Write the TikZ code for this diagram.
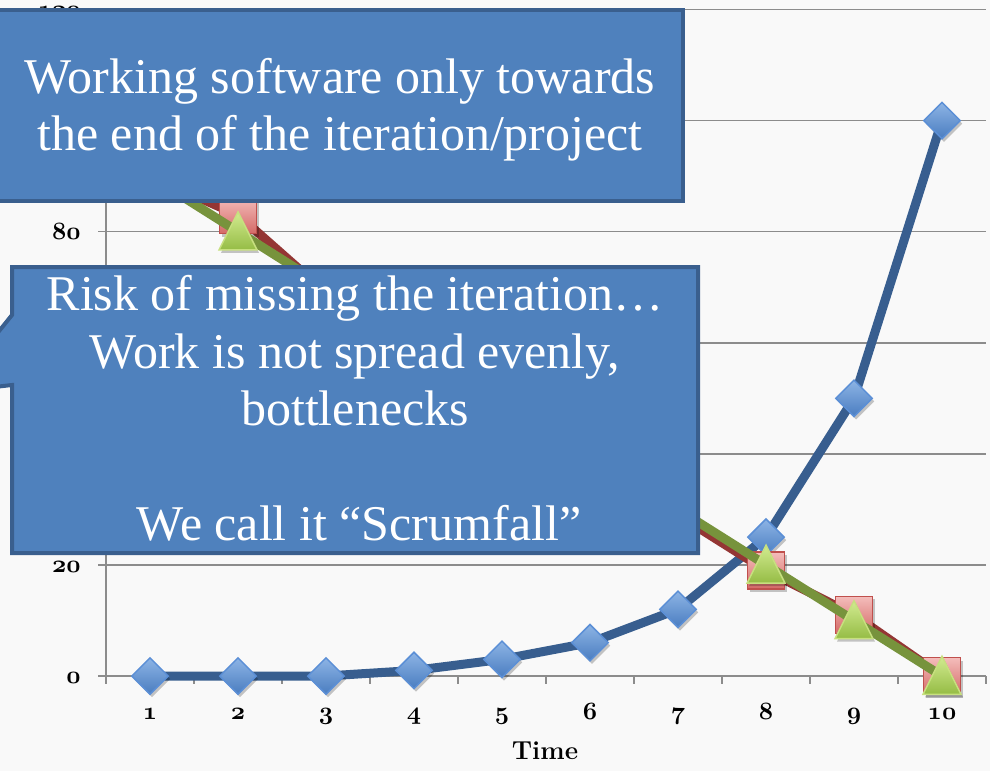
\documentclass[tikz,border=0pt]{standalone}
\usepackage{fontspec}
\newfontfamily\boxfont{Liberation Serif}
\usetikzlibrary{shapes.geometric,shadows}
\definecolor{bgc}{HTML}{F9F9F9}
\definecolor{gridc}{HTML}{8C8C8C}
\definecolor{boxfill}{HTML}{4F81BD}
\definecolor{boxedge}{HTML}{3A5F8E}
\definecolor{blueline}{HTML}{385E8F}
\definecolor{bluetop}{HTML}{8DB4E5}
\definecolor{bluebot}{HTML}{4A7DC0}
\definecolor{blueedge}{HTML}{5B8FD6}
\definecolor{redline}{HTML}{943634}
\definecolor{redtop}{HTML}{F4BDBB}
\definecolor{redbot}{HTML}{D46A67}
\definecolor{rededge}{HTML}{C0504D}
\definecolor{greenline}{HTML}{77933C}
\definecolor{greentop}{HTML}{D2EB90}
\definecolor{greenbot}{HTML}{95BC45}
\definecolor{greenedge}{HTML}{C7E07F}
\newcommand\axnum[1]{{\fontsize{24}{24}\usefont{OML}{cmm}{b}{it}#1}}
\begin{document}
\begin{tikzpicture}[x=1pt,y=-1pt,
  grid/.style={draw=gridc, line width=1.5},
  axisline/.style={draw=gridc, line width=2},
  ylab/.style={anchor=base east, inner sep=0},
  xlab/.style={anchor=base, inner sep=0},
  callout/.style={fill=boxfill, draw=boxedge, line width=4, line join=miter},
  boxtext/.style={anchor=base, inner sep=0, text=white, font=\boxfont\fontsize{50}{57}\selectfont},
  series/.style={line width=9, line join=round, line cap=round},
  mshadow/.style={drop shadow={shadow xshift=2pt, shadow yshift=-3pt, opacity=0.22, fill=black}},
  bmark/.style={diamond, inner sep=0, minimum width=37, minimum height=37, draw=blueedge, line width=1.5, top color=bluetop, bottom color=bluebot, mshadow},
  rmark/.style={rectangle, inner sep=0, minimum size=37, draw=rededge, line width=1.5, top color=redtop, bottom color=redbot, mshadow},
  gmark/.style={isosceles triangle, isosceles triangle stretches, shape border rotate=90, inner sep=0, minimum width=38, minimum height=38, draw=greenedge, line width=1.5, top color=greentop, bottom color=greenbot, mshadow, anchor=south},
]
\useasboundingbox (0,0) rectangle (990,771);
\clip (0,0) rectangle (990,771);
\fill[bgc] (0,0) rectangle (990,771);

% grid and axes
\foreach \v in {20,40,60,80,100,120}
  \draw[grid] (98,{676-5.554*\v}) -- (986,{676-5.554*\v});
\draw[axisline] (106,{676-5.554*120}) -- (106,684);
\draw[axisline] (98,676) -- (986,676);
\foreach \k in {1,...,10}
  \draw[axisline] ({106+88*\k},676) -- ({106+88*\k},684);

% axis labels
\node[ylab] (y0) at (81,683) {\axnum{0}};
\node[ylab] (y20) at (81,572) {\axnum{20}};
\node[ylab] (y80) at (81,239) {\axnum{80}};
\node[ylab] (y120) at (81,17) {\axnum{120}};
\foreach \i in {1,...,10}
  \node[xlab] (x\i) at ({62+88*\i},719) {\axnum{\i}};
\node[anchor=base, inner sep=0, font=\fontsize{26}{26}\selectfont\bfseries] (tlabel) at (545,759) {Time};

% data points
\foreach \i/\b/\r/\g in {1/0/90/90, 2/0/83/80, 3/0/69/70, 4/1/61/60, 5/3/51/50,
                        6/6/41/40, 7/12/29/30, 8/25/19/20, 9/50/11/10, 10/100/0/0} {
  \coordinate (b\i) at ({62+88*\i},{676-5.554*\b});
  \coordinate (r\i) at ({62+88*\i},{676-5.554*\r});
  \coordinate (g\i) at ({62+88*\i},{676-5.554*\g});
}

% blue series
\draw[series, draw=blueline] (b1) -- (b2) -- (b3) -- (b4) -- (b5) -- (b6) -- (b7) -- (b8) -- (b9) -- (b10);
\foreach \i in {1,...,10} \node[bmark] (bm\i) at (b\i) {};

% red series
\draw[series, draw=redline] (r1) -- (r2) -- (r3) -- (r4) -- (r5) -- (r6) -- (r7) -- (r8) -- (r9) -- (r10);
\foreach \i in {1,...,10} \node[rmark] (rm\i) at (r\i) {};

% green series
\draw[series, draw=greenline] (g1) -- (g2) -- (g3) -- (g4) -- (g5) -- (g6) -- (g7) -- (g8) -- (g9) -- (g10);
\foreach \i in {1,...,10} \node[gmark] (gm\i) at ([yshift=-19pt]g\i) {};

% callout 1
\draw[callout] (-20,10) rectangle (683,201);
\node[boxtext] (t1a) at (340,93) {Working software only towards};
\node[boxtext] (t1b) at (340,150) {the end of the iteration/project};

% callout 2
\draw[callout] (12,267) -- (698,267) -- (698,553) -- (12,553) -- (12,385) -- (-50,392) -- (12,315) -- cycle;
\node[boxtext] (t2a) at (355,310) {Risk of missing the iteration…};
\node[boxtext] (t2b) at (355,368) {Work is not spread evenly,};
\node[boxtext] (t2c) at (355,425) {bottlenecks};
\node[boxtext] (t2d) at (359,540) {We call it “Scrumfall”};
\end{tikzpicture}
\end{document}
